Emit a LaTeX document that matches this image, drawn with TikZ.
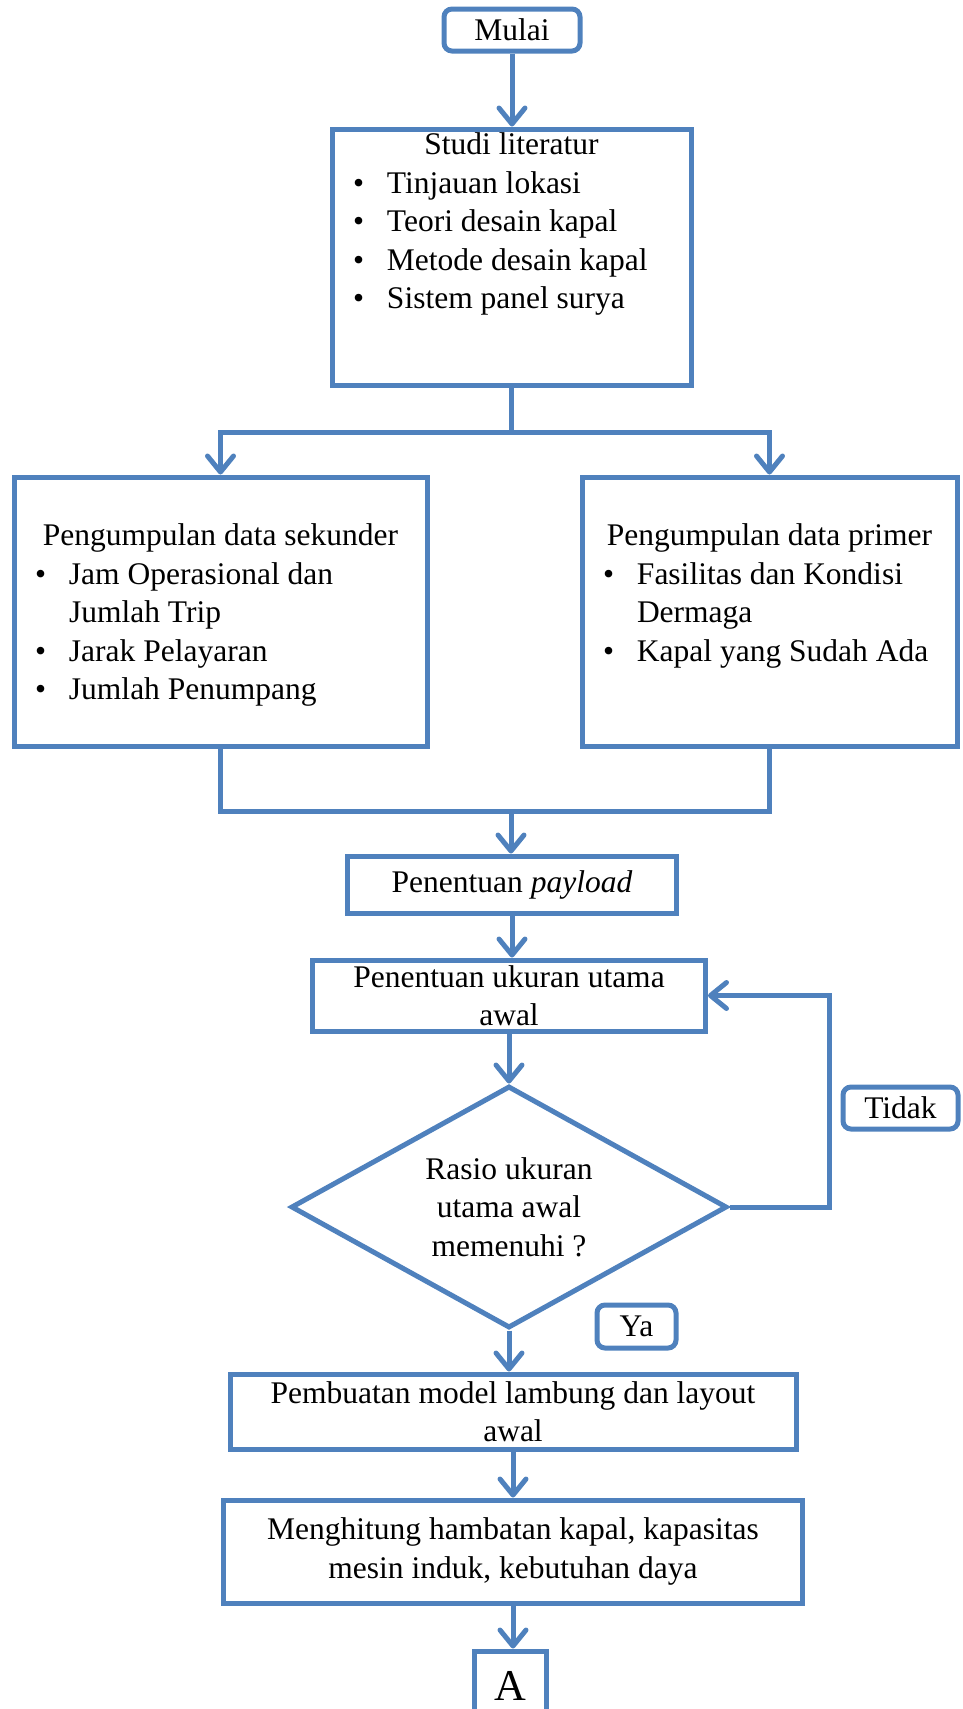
\documentclass[tikz,border=0pt]{standalone}
\usepackage{fontspec}
\setmainfont{Liberation Serif}
\usepackage{tikz}
\usetikzlibrary{arrows.meta}
\usetikzlibrary{shapes.geometric}

\definecolor{garis}{RGB}{79,129,189}

% isi kotak: lebar, tinggi, jarak atas, teks
\newcommand{\isikotak}[4]{\parbox[c][#2][t]{#1}{\vspace*{#3}\raggedright #4}}
\newcommand{\butir}{\par\noindent\hangindent=55pt\hangafter=1\hspace*{21pt}\makebox[34pt][l]{\textbullet}}

\begin{document}
\begin{tikzpicture}[x=1pt,y=-1pt,
        kotak/.style={draw=garis,line width=5pt,rectangle,inner sep=0pt,
            font=\fontsize{31.5}{38.5}\selectfont,align=center},
        bulat/.style={kotak,rounded corners=8pt},
        garisan/.style={draw=garis,line width=5pt},
        panah/.style={garisan,-{Straight Barb[length=16pt,width=26pt,round]}}]

    \useasboundingbox (0,0) rectangle (963,1709);

    \node[bulat,minimum width=136pt,minimum height=42pt] (mulai) at (512,30) {Mulai};
    \node[kotak] (studi) at (511.5,257) {\isikotak{359pt}{256pt}{4pt}{%
            {\centering Studi literatur\par}
            \butir Tinjauan lokasi
            \butir Teori desain kapal
            \butir Metode desain kapal
            \butir Sistem panel surya}};
    \node[kotak] (sek) at (220.5,611.5) {\isikotak{413pt}{269pt}{47pt}{%
            {\centering Pengumpulan data sekunder\par}
            \butir Jam Operasional dan\newline Jumlah Trip
            \butir Jarak Pelayaran
            \butir Jumlah Penumpang}};
    \node[kotak] (prim) at (769.5,611.5) {\isikotak{375pt}{269pt}{47pt}{%
            {\centering Pengumpulan data primer\par}
            \butir Fasilitas dan Kondisi\newline Dermaga
            \butir Kapal yang Sudah Ada}};
    \node[kotak,minimum width=329pt,minimum height=57pt] (pay) at (512,884.5) {Penentuan \textit{payload}};
    \node[kotak,minimum width=393pt,minimum height=71pt] (ukur) at (509,995.5) {Penentuan ukuran utama\\awal};
    \node[kotak,shape=diamond,aspect=1.8,minimum width=436pt,minimum height=242pt] (rasio) at (509,1207)
        {Rasio ukuran\\utama awal\\memenuhi ?};
    \node[bulat,minimum width=115pt,minimum height=42pt] (tidak) at (900.5,1108) {Tidak};
    \node[bulat,minimum width=79pt,minimum height=43pt] (ya) at (636.5,1326.5) {Ya};
    \node[kotak,minimum width=566pt,minimum height=75pt] (buat) at (513,1411.5) {Pembuatan model lambung dan layout\\awal};
    \node[kotak,minimum width=579pt,minimum height=103pt] (hitung) at (513,1551.5) {Menghitung hambatan kapal, kapasitas\\mesin induk, kebutuhan daya};
    \node[kotak,minimum width=72pt,minimum height=70pt,font=\fontsize{44}{50}\selectfont] (A) at (510,1686) {A};

    % alur utama
    \foreach \a/\b in {mulai/studi,pay/ukur,ukur/rasio,rasio/buat,buat/hitung,hitung/A}
        \draw[panah] (\a.south) -- (\a.south |- \b.north);

    % cabang ke dua pengumpulan data
    \draw[garisan] (studi.south) -- ++(0,45) coordinate (cabang);
    \draw[panah] (cabang) -| (sek.north);
    \draw[panah] (cabang) -| (prim.north);

    % gabung ke payload
    \coordinate (gabung) at (511,811);
    \draw[garisan] (sek.south) |- (gabung) -| (prim.south);
    \draw[panah] (gabung) -- (gabung |- pay.north);

    % kembali jika tidak
    \draw[panah] (rasio.east) -- ++(100,0) |- (ukur.east);
\end{tikzpicture}
\end{document}
